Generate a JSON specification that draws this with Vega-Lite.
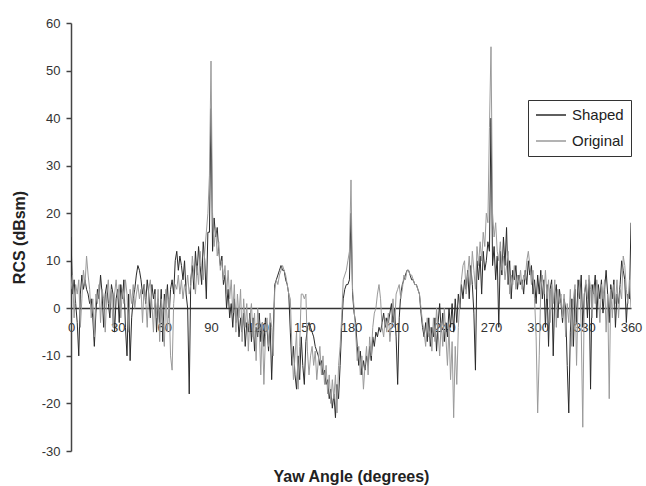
{
  "$schema": "https://vega.github.io/schema/vega-lite/v6.json",
  "width": 560,
  "height": 428,
  "autosize": "none",
  "padding": {"left": 71, "top": 23, "right": 15, "bottom": 35},
  "background": "white",
  "config": {"view": {"stroke": null}, "font": "Liberation Sans"},
  "data": {"values": [
{"a":0,"S":15,"O":4},{"a":1,"S":3,"O":7},{"a":2,"S":6,"O":-2},{"a":3,"S":1,"O":5},{"a":4,"S":-3,"O":3},{"a":5,"S":-10,"O":6},{"a":6,"S":3,"O":-4},{"a":7,"S":7,"O":2},{"a":8,"S":4,"O":8},{"a":9,"S":6,"O":5},
{"a":10,"S":4,"O":11},{"a":11,"S":3,"O":7},{"a":12,"S":1,"O":4},{"a":13,"S":2,"O":-2},{"a":14,"S":-2,"O":2},{"a":15,"S":-8,"O":-6},{"a":16,"S":-1,"O":3},{"a":17,"S":4,"O":1},{"a":18,"S":2,"O":5},{"a":19,"S":7,"O":-3},
{"a":20,"S":3,"O":4},{"a":21,"S":-4,"O":2},{"a":22,"S":3,"O":-5},{"a":23,"S":5,"O":3},{"a":24,"S":1,"O":6},{"a":25,"S":-2,"O":0},{"a":26,"S":5,"O":4},{"a":27,"S":3,"O":-4},{"a":28,"S":-5,"O":3},{"a":29,"S":2,"O":6},
{"a":30,"S":4,"O":2},{"a":31,"S":-3,"O":5},{"a":32,"S":5,"O":-2},{"a":33,"S":2,"O":4},{"a":34,"S":6,"O":1},{"a":35,"S":-4,"O":6},{"a":36,"S":-10,"O":3},{"a":37,"S":3,"O":-5},{"a":38,"S":-11,"O":4},{"a":39,"S":-2,"O":1},
{"a":40,"S":2,"O":5},{"a":41,"S":4,"O":0},{"a":42,"S":7,"O":3},{"a":43,"S":9,"O":5},{"a":44,"S":8,"O":2},{"a":45,"S":6,"O":4},{"a":46,"S":3,"O":-3},{"a":47,"S":5,"O":5},{"a":48,"S":1,"O":2},{"a":49,"S":6,"O":-4},
{"a":50,"S":3,"O":4},{"a":51,"S":-2,"O":6},{"a":52,"S":5,"O":1},{"a":53,"S":2,"O":-5},{"a":54,"S":4,"O":3},{"a":55,"S":-5,"O":-2},{"a":56,"S":2,"O":4},{"a":57,"S":-3,"O":-7},{"a":58,"S":4,"O":2},{"a":59,"S":-7,"O":-3},
{"a":60,"S":3,"O":-8},{"a":61,"S":1,"O":4},{"a":62,"S":5,"O":-5},{"a":63,"S":-2,"O":2},{"a":64,"S":4,"O":-10},{"a":65,"S":6,"O":-13},{"a":66,"S":3,"O":1},{"a":67,"S":10,"O":5},{"a":68,"S":12,"O":4},{"a":69,"S":8,"O":7},
{"a":70,"S":11,"O":3},{"a":71,"S":9,"O":6},{"a":72,"S":6,"O":2},{"a":73,"S":10,"O":5},{"a":74,"S":3,"O":4},{"a":75,"S":0,"O":7},{"a":76,"S":-18,"O":3},{"a":77,"S":6,"O":5},{"a":78,"S":9,"O":11},{"a":79,"S":4,"O":7},
{"a":80,"S":12,"O":3},{"a":81,"S":7,"O":9},{"a":82,"S":13,"O":5},{"a":83,"S":9,"O":12},{"a":84,"S":5,"O":8},{"a":85,"S":14,"O":6},{"a":86,"S":10,"O":12},{"a":87,"S":2,"O":16},{"a":88,"S":16,"O":20},{"a":89,"S":16,"O":28},
{"a":90,"S":42,"O":52},{"a":91,"S":12,"O":20},{"a":92,"S":19,"O":13},{"a":93,"S":15,"O":17},{"a":94,"S":17,"O":11},{"a":95,"S":12,"O":14},{"a":96,"S":9,"O":8},{"a":97,"S":11,"O":10},{"a":98,"S":5,"O":6},{"a":99,"S":7,"O":9},
{"a":100,"S":0,"O":3},{"a":101,"S":4,"O":8},{"a":102,"S":-2,"O":2},{"a":103,"S":1,"O":6},{"a":104,"S":-4,"O":-1},{"a":105,"S":2,"O":5},{"a":106,"S":-3,"O":-5},{"a":107,"S":0,"O":3},{"a":108,"S":-6,"O":-2},{"a":109,"S":-2,"O":4},
{"a":110,"S":-5,"O":-7},{"a":111,"S":-1,"O":2},{"a":112,"S":-8,"O":-4},{"a":113,"S":-3,"O":1},{"a":114,"S":-5,"O":-9},{"a":115,"S":-1,"O":-2},{"a":116,"S":-7,"O":1},{"a":117,"S":-2,"O":-6},{"a":118,"S":-9,"O":-1},{"a":119,"S":-4,"O":-11},
{"a":120,"S":-6,"O":0},{"a":121,"S":-1,"O":-4},{"a":122,"S":-7,"O":-14},{"a":123,"S":-3,"O":-3},{"a":124,"S":-8,"O":-16},{"a":125,"S":-2,"O":-6},{"a":126,"S":-4,"O":-2},{"a":127,"S":-9,"O":-8},{"a":128,"S":-3,"O":-1},{"a":129,"S":-15,"O":-4},
{"a":130,"S":-5,"O":-10},{"a":131,"S":5,"O":4},{"a":132,"S":6,"O":6},{"a":133,"S":7,"O":5},{"a":134,"S":8,"O":7},{"a":135,"S":9,"O":8},{"a":136,"S":8,"O":9},{"a":137,"S":8,"O":8},{"a":138,"S":6,"O":7},{"a":139,"S":5,"O":5},
{"a":140,"S":3,"O":3},{"a":141,"S":-5,"O":2},{"a":142,"S":-12,"O":-8},{"a":143,"S":-8,"O":-15},{"a":144,"S":-14,"O":-10},{"a":145,"S":-17,"O":-5},{"a":146,"S":-10,"O":-17},{"a":147,"S":-15,"O":-8},{"a":148,"S":-6,"O":3},{"a":149,"S":-12,"O":3},
{"a":150,"S":-16,"O":2},{"a":151,"S":-7,"O":3},{"a":152,"S":-4,"O":-9},{"a":153,"S":-3,"O":-14},{"a":154,"S":-4,"O":-10},{"a":155,"S":-5,"O":-8},{"a":156,"S":-6,"O":-12},{"a":157,"S":-8,"O":-9},{"a":158,"S":-9,"O":-15},{"a":159,"S":-10,"O":-11},
{"a":160,"S":-12,"O":-8},{"a":161,"S":-11,"O":-14},{"a":162,"S":-14,"O":-10},{"a":163,"S":-13,"O":-16},{"a":164,"S":-16,"O":-12},{"a":165,"S":-15,"O":-18},{"a":166,"S":-19,"O":-14},{"a":167,"S":-17,"O":-20},{"a":168,"S":-21,"O":-15},{"a":169,"S":-18,"O":-19},
{"a":170,"S":-23,"O":-14},{"a":171,"S":-16,"O":-22},{"a":172,"S":-19,"O":-12},{"a":173,"S":-12,"O":-8},{"a":174,"S":-4,"O":-2},{"a":175,"S":2,"O":6},{"a":176,"S":4,"O":7},{"a":177,"S":5,"O":8},{"a":178,"S":5,"O":10},{"a":179,"S":6,"O":12},
{"a":180,"S":20,"O":27},{"a":181,"S":3,"O":4},{"a":182,"S":-1,"O":0},{"a":183,"S":-3,"O":-5},{"a":184,"S":-8,"O":-11},{"a":185,"S":-12,"O":-8},{"a":186,"S":-9,"O":-14},{"a":187,"S":-14,"O":-10},{"a":188,"S":-11,"O":-17},{"a":189,"S":-13,"O":-12},
{"a":190,"S":-10,"O":-8},{"a":191,"S":-12,"O":-14},{"a":192,"S":-8,"O":-6},{"a":193,"S":-11,"O":-10},{"a":194,"S":-6,"O":-4},{"a":195,"S":-8,"O":-1},{"a":196,"S":-5,"O":0},{"a":197,"S":-6,"O":3},{"a":198,"S":-4,"O":5},{"a":199,"S":-5,"O":2},
{"a":200,"S":-3,"O":-4},{"a":201,"S":-1,"O":-6},{"a":202,"S":-4,"O":-2},{"a":203,"S":-2,"O":-5},{"a":204,"S":-3,"O":-1},{"a":205,"S":-1,"O":-7},{"a":206,"S":1,"O":-3},{"a":207,"S":-3,"O":2},{"a":208,"S":0,"O":-4},{"a":209,"S":-6,"O":3},
{"a":210,"S":-16,"O":4},{"a":211,"S":-2,"O":5},{"a":212,"S":3,"O":2},{"a":213,"S":5,"O":4},{"a":214,"S":6,"O":7},{"a":215,"S":7,"O":6},{"a":216,"S":8,"O":8},{"a":217,"S":8,"O":8},{"a":218,"S":7,"O":7},{"a":219,"S":6,"O":7},
{"a":220,"S":6,"O":6},{"a":221,"S":5,"O":5},{"a":222,"S":5,"O":5},{"a":223,"S":4,"O":4},{"a":224,"S":3,"O":3},{"a":225,"S":-1,"O":0},{"a":226,"S":-4,"O":-3},{"a":227,"S":-6,"O":-5},{"a":228,"S":-3,"O":-8},{"a":229,"S":-7,"O":-2},
{"a":230,"S":-2,"O":-6},{"a":231,"S":-8,"O":-4},{"a":232,"S":-4,"O":-9},{"a":233,"S":-6,"O":-2},{"a":234,"S":-2,"O":-7},{"a":235,"S":-9,"O":0},{"a":236,"S":-3,"O":-5},{"a":237,"S":1,"O":-10},{"a":238,"S":-5,"O":-3},{"a":239,"S":-1,"O":-8},
{"a":240,"S":-7,"O":0},{"a":241,"S":-3,"O":-6},{"a":242,"S":-6,"O":-12},{"a":243,"S":0,"O":-4},{"a":244,"S":-4,"O":-15},{"a":245,"S":1,"O":-7},{"a":246,"S":-5,"O":-23},{"a":247,"S":2,"O":-8},{"a":248,"S":-3,"O":-16},{"a":249,"S":3,"O":-4},
{"a":250,"S":0,"O":2},{"a":251,"S":5,"O":6},{"a":252,"S":2,"O":9},{"a":253,"S":6,"O":10},{"a":254,"S":4,"O":3},{"a":255,"S":8,"O":7},{"a":256,"S":2,"O":11},{"a":257,"S":9,"O":5},{"a":258,"S":5,"O":12},{"a":259,"S":-1,"O":8},
{"a":260,"S":-13,"O":4},{"a":261,"S":10,"O":13},{"a":262,"S":6,"O":9},{"a":263,"S":11,"O":14},{"a":264,"S":3,"O":10},{"a":265,"S":12,"O":16},{"a":266,"S":8,"O":13},{"a":267,"S":10,"O":20},{"a":268,"S":14,"O":18},{"a":269,"S":12,"O":38},
{"a":270,"S":40,"O":55},{"a":271,"S":9,"O":20},{"a":272,"S":13,"O":15},{"a":273,"S":6,"O":18},{"a":274,"S":11,"O":12},{"a":275,"S":-4,"O":10},{"a":276,"S":12,"O":14},{"a":277,"S":7,"O":8},{"a":278,"S":15,"O":11},{"a":279,"S":9,"O":6},
{"a":280,"S":17,"O":9},{"a":281,"S":5,"O":12},{"a":282,"S":10,"O":3},{"a":283,"S":2,"O":7},{"a":284,"S":8,"O":5},{"a":285,"S":6,"O":9},{"a":286,"S":9,"O":4},{"a":287,"S":4,"O":7},{"a":288,"S":7,"O":5},{"a":289,"S":5,"O":8},
{"a":290,"S":6,"O":4},{"a":291,"S":3,"O":7},{"a":292,"S":8,"O":6},{"a":293,"S":5,"O":10},{"a":294,"S":10,"O":12},{"a":295,"S":7,"O":9},{"a":296,"S":9,"O":5},{"a":297,"S":3,"O":8},{"a":298,"S":6,"O":2},{"a":299,"S":1,"O":-6},
{"a":300,"S":7,"O":-22},{"a":301,"S":3,"O":-10},{"a":302,"S":8,"O":4},{"a":303,"S":2,"O":7},{"a":304,"S":6,"O":3},{"a":305,"S":-4,"O":8},{"a":306,"S":5,"O":2},{"a":307,"S":-8,"O":6},{"a":308,"S":4,"O":-3},{"a":309,"S":6,"O":5},
{"a":310,"S":-10,"O":1},{"a":311,"S":3,"O":6},{"a":312,"S":5,"O":-4},{"a":313,"S":-2,"O":4},{"a":314,"S":4,"O":1},{"a":315,"S":1,"O":3},{"a":316,"S":-3,"O":-2},{"a":317,"S":2,"O":3},{"a":318,"S":0,"O":-6},{"a":319,"S":-12,"O":1},
{"a":320,"S":-22,"O":-3},{"a":321,"S":-5,"O":4},{"a":322,"S":2,"O":-8},{"a":323,"S":-8,"O":2},{"a":324,"S":4,"O":5},{"a":325,"S":-3,"O":-12},{"a":326,"S":6,"O":2},{"a":327,"S":2,"O":6},{"a":328,"S":7,"O":-4},{"a":329,"S":-4,"O":-25},
{"a":330,"S":3,"O":3},{"a":331,"S":5,"O":6},{"a":332,"S":-2,"O":2},{"a":333,"S":6,"O":7},{"a":334,"S":-17,"O":4},{"a":335,"S":5,"O":-2},{"a":336,"S":3,"O":5},{"a":337,"S":7,"O":1},{"a":338,"S":-2,"O":6},{"a":339,"S":5,"O":3},
{"a":340,"S":2,"O":-3},{"a":341,"S":6,"O":5},{"a":342,"S":-1,"O":2},{"a":343,"S":4,"O":6},{"a":344,"S":8,"O":-5},{"a":345,"S":3,"O":3},{"a":346,"S":-3,"O":-19},{"a":347,"S":5,"O":4},{"a":348,"S":2,"O":-2},{"a":349,"S":6,"O":5},
{"a":350,"S":-4,"O":1},{"a":351,"S":3,"O":6},{"a":352,"S":1,"O":-2},{"a":353,"S":5,"O":4},{"a":354,"S":10,"O":2},{"a":355,"S":8,"O":11},{"a":356,"S":6,"O":9},{"a":357,"S":-3,"O":4},{"a":358,"S":3,"O":1},{"a":359,"S":2,"O":6},
{"a":360,"S":18,"O":0}
  ]},
  "transform": [{"fold": ["S", "O"], "as": ["k", "v"]}],
  "mark": {"type": "line", "strokeWidth": 1, "clip": true},
  "encoding": {
    "x": {
      "field": "a", "type": "quantitative",
      "scale": {"domain": [0, 360], "nice": false, "zero": false},
      "axis": {
        "values": [0, 30, 60, 90, 120, 150, 180, 210, 240, 270, 300, 330, 360],
        "offset": -143, "grid": false, "ticks": false,
        "domainColor": "#333", "domainWidth": 1.5,
        "labelFont": "Liberation Sans", "labelFontSize": 13, "labelColor": "#333",
        "labelPadding": 13, "labelFlush": false, "labelOverlap": false,
        "title": "Yaw Angle (degrees)", "titleFont": "Liberation Sans", "titleFontSize": 16,
        "titleFontWeight": "bold", "titleColor": "#222",
        "titleBaseline": "alphabetic", "titleY": 173, "titleX": 280
      }
    },
    "y": {
      "field": "v", "type": "quantitative",
      "scale": {"domain": [-30, 60], "nice": false, "zero": false},
      "axis": {
        "values": [-30, -20, -10, 0, 10, 20, 30, 40, 50, 60],
        "labelExpr": "datum.value + ''",
        "grid": false, "tickSize": 5, "tickColor": "#444", "tickWidth": 1.5,
        "domainColor": "#444", "domainWidth": 1.5,
        "labelFont": "Liberation Sans", "labelFontSize": 13, "labelColor": "#333", "labelPadding": 6,
        "title": "RCS (dBsm)", "titleFont": "Liberation Sans", "titleFontSize": 16,
        "titleFontWeight": "bold", "titleColor": "#222",
        "titleBaseline": "alphabetic", "titleX": -47, "titleY": 214, "titleAngle": -90
      }
    },
    "color": {
      "field": "k", "type": "nominal",
      "scale": {"domain": ["S", "O"], "range": ["#2a2a2a", "#9a9a9a"]},
      "legend": {
        "title": null, "orient": "none", "legendX": 457, "legendY": 77,
        "labelExpr": "datum.label == 'S' ? 'Shaped' : 'Original'",
        "symbolType": "stroke", "symbolSize": 900, "symbolStrokeWidth": 1.5,
        "clipHeight": 16, "rowPadding": 10, "labelOffset": 5,
        "labelFont": "Liberation Sans", "labelFontSize": 15, "labelColor": "#222",
        "strokeColor": "#333", "fillColor": "white", "padding": 7
      }
    },
    "order": {"field": "a", "type": "quantitative"}
  }
}
